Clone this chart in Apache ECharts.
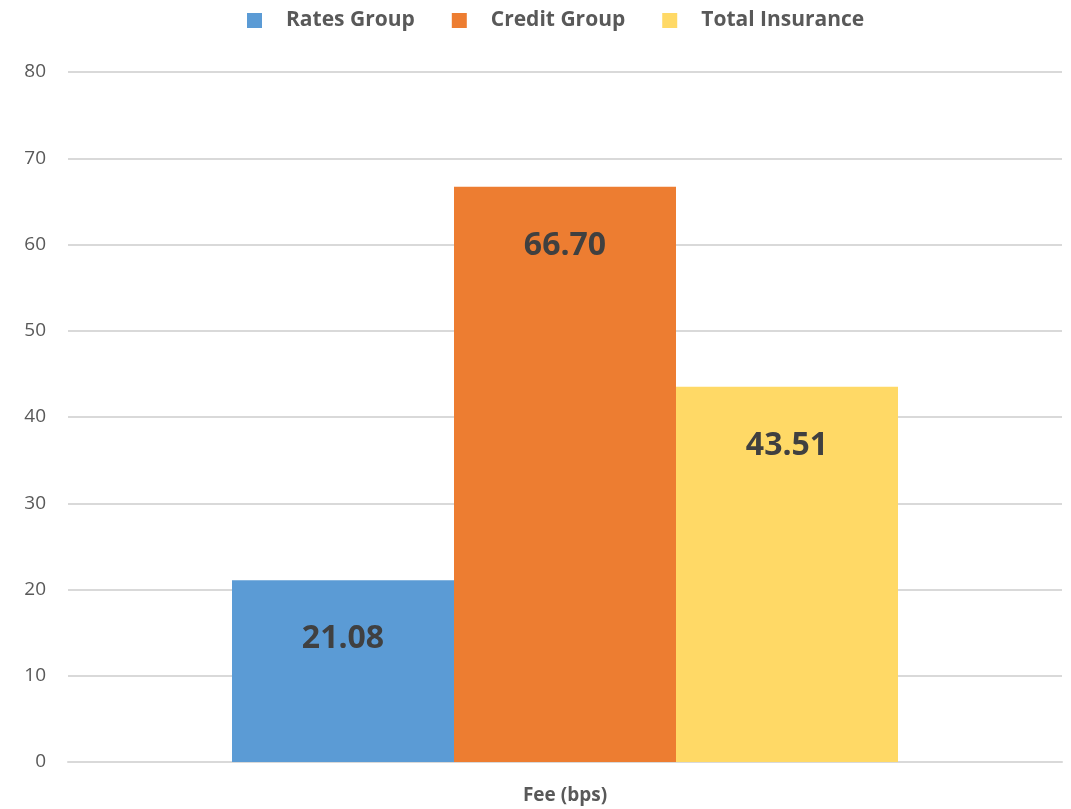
<!DOCTYPE html>
<html>
<head>
<meta charset="utf-8">
<script src="https://cdn.jsdelivr.net/npm/echarts@6/dist/echarts.min.js"></script>
<style>
  html, body { margin: 0; padding: 0; background: #fff; }
  #main { width: 1071px; height: 809px; }
</style>
</head>
<body>
<div id="main"></div>
<script>
const categories = ['Fee (bps)'];
const seriesNames = ['Rates Group', 'Credit Group', 'Total Insurance'];
const ratesGroup = [21.08];
const creditGroup = [66.70];
const totalInsurance = [43.51];
const yTicks = { min: 0, max: 80, interval: 10 };

const colors = ['#5B9BD5', '#ED7D31', '#FFD966'];
const seriesData = [ratesGroup, creditGroup, totalInsurance];

const myChart = echarts.init(document.getElementById('main'));

const option = {
  backgroundColor: '#fff',
  textStyle: { fontFamily: 'Open Sans' },
  legend: {
    top: 5,
    left: 242,
    itemWidth: 15,
    itemHeight: 15,
    itemGap: 37,
    icon: 'rect',
    textStyle: { color: '#595959', fontSize: 21, fontWeight: 'bold', padding: [0, 0, 0, 19] },
    data: seriesNames
  },
  grid: { left: 68, right: 9, top: 72, bottom: 47 },
  xAxis: {
    type: 'category',
    data: categories,
    axisLine: { lineStyle: { color: '#D9D9D9', width: 2 } },
    axisTick: { show: false },
    axisLabel: { color: '#595959', fontSize: 19, fontWeight: 'bold', margin: 24 }
  },
  yAxis: {
    type: 'value',
    min: yTicks.min,
    max: yTicks.max,
    interval: yTicks.interval,
    axisLine: { show: false },
    axisTick: { show: false },
    axisLabel: { color: '#595959', fontSize: 19, margin: 22 },
    splitLine: { lineStyle: { color: '#D9D9D9', width: 2 } }
  },
  series: seriesNames.map((name, i) => ({
    name: name,
    type: 'bar',
    barWidth: 222,
    barGap: '0%',
    data: seriesData[i],
    itemStyle: { color: colors[i] },
    label: {
      show: true,
      position: 'insideTop',
      distance: 43,
      color: '#404040',
      fontSize: 32,
      fontWeight: 'bold',
      formatter: p => p.value.toFixed(2)
    }
  }))
};

myChart.setOption(option);
</script>
</body>
</html>
